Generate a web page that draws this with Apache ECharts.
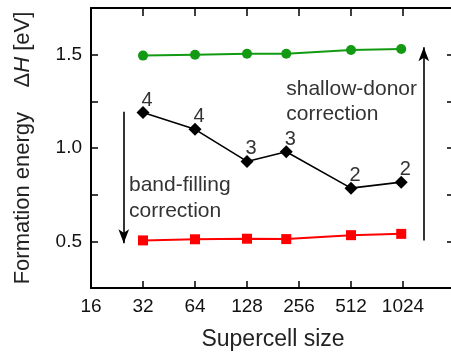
<!DOCTYPE html>
<html>
<head>
<meta charset="utf-8">
<script src="https://cdn.jsdelivr.net/npm/echarts@6/dist/echarts.min.js"></script>
<style>
html,body{margin:0;padding:0;background:#fff;overflow:hidden;}
#chart{width:451px;height:358px;}
</style>
</head>
<body>
<div id="chart"></div>
<script>
// Supercell sizes (atoms) and formation energies (eV)
var sizes = [32, 64, 128, 216, 512, 1000];
var corrDonor = [1.495, 1.500, 1.505, 1.505, 1.525, 1.530];   // green circles
var uncorrected = [1.190, 1.100, 0.928, 0.980, 0.785, 0.817]; // black diamonds
var corrBand = [0.505, 0.511, 0.514, 0.512, 0.533, 0.540];     // red squares
var electronCounts = ['4', '4', '3', '3', '2', '2'];
var xTickExponents = [4, 5, 6, 7, 8, 9, 10];

var FONT = 'Liberation Sans, Arial, Helvetica, sans-serif';

function pts(vals) {
  return sizes.map(function (s, i) { return [Math.log2(s), vals[i]]; });
}

var chart = echarts.init(document.getElementById('chart'), null, {renderer: 'canvas'});

var axisLineStyle = {color: '#000', width: 2};

var option = {
  animation: false,
  backgroundColor: '#fff',
  grid: {left: 91, top: 8, width: 364, height: 280, containLabel: false, outerBoundsMode: 'none'},
  xAxis: [{
    type: 'value', min: 4, max: 11, interval: 1,
    position: 'bottom',
    axisLine: {show: true, onZero: false, lineStyle: axisLineStyle},
    axisTick: {show: true, inside: true, length: 7, lineStyle: {color: '#000', width: 1.5}},
    axisLabel: {
      fontFamily: FONT, fontSize: 19, color: '#111', margin: 9,
      formatter: function (v) { return xTickExponents.indexOf(v) >= 0 ? String(Math.pow(2, v)) : ''; }
    },
    splitLine: {show: false},
    name: 'Supercell size', nameLocation: 'middle', nameGap: 40,
    nameTextStyle: {fontFamily: FONT, fontSize: 23, color: '#222'}
  }, {
    type: 'value', min: 4, max: 11, interval: 1,
    position: 'top',
    axisLine: {show: true, onZero: false, lineStyle: axisLineStyle},
    axisTick: {show: true, inside: true, length: 8, lineStyle: {color: '#000', width: 1.5}},
    axisLabel: {show: false},
    splitLine: {show: false}
  }],
  yAxis: [{
    type: 'value', min: 0.25, max: 1.75, interval: 0.25,
    position: 'left',
    axisLine: {show: true, onZero: false, lineStyle: axisLineStyle},
    axisTick: {show: true, inside: true, length: 7, lineStyle: {color: '#000', width: 1.5}},
    axisLabel: {
      fontFamily: FONT, fontSize: 19, color: '#111', margin: 9,
      formatter: function (v) {
        var r = Math.round(v * 100);
        return (r % 50 === 0 && r >= 50 && r <= 150) ? v.toFixed(1) : '';
      }
    },
    splitLine: {show: false},
    name: '{a|Formation energy    Δ}{i|H}{a| [eV]}',
    nameLocation: 'middle', nameGap: 57, nameRotate: 90,
    nameTextStyle: {
      rich: {
        a: {fontFamily: FONT, fontSize: 22, color: '#222'},
        i: {fontFamily: FONT, fontSize: 22, color: '#222', fontStyle: 'italic'}
      }
    }
  }, {
    type: 'value', min: 0.25, max: 1.75, interval: 0.25,
    position: 'right',
    axisLine: {show: false},
    axisTick: {show: true, inside: true, length: 8, lineStyle: {color: '#000', width: 1.5}},
    axisLabel: {show: false},
    splitLine: {show: false}
  }],
  series: [{
    name: 'donor-corrected', type: 'line', data: pts(corrDonor),
    symbol: 'circle', symbolSize: 10,
    lineStyle: {color: '#139a13', width: 2},
    itemStyle: {color: '#139a13'},
    silent: true, z: 3
  }, {
    name: 'band-corrected', type: 'line', data: pts(corrBand),
    symbol: 'rect', symbolSize: 10,
    lineStyle: {color: '#ff0000', width: 2},
    itemStyle: {color: '#ff0000'},
    silent: true, z: 3
  }, {
    name: 'uncorrected', type: 'line', data: pts(uncorrected),
    symbol: 'diamond', symbolSize: 13,
    lineStyle: {color: '#000', width: 1.6},
    itemStyle: {color: '#000'},
    label: {
      show: true, position: 'top', distance: 1, offset: [4, 5],
      fontFamily: FONT, fontSize: 20, color: '#333',
      formatter: function (p) { return electronCounts[p.dataIndex]; }
    },
    silent: true, z: 3,
    markLine: {
      silent: true,
      symbol: ['none', 'arrow'],
      symbolSize: [8, 14],
      label: {show: false},
      lineStyle: {color: '#000', width: 1.6, type: 'solid'},
      emphasis: {disabled: true},
      data: [
        [{coord: [4.63, 1.194]}, {coord: [4.63, 0.49]}],
        [{coord: [10.40, 0.505]}, {coord: [10.40, 1.54]}]
      ]
    }
  }],
  graphic: [{
    type: 'text', left: 129, top: 172,
    style: {
      text: 'band-filling\ncorrection', fontFamily: FONT, fontSize: 21,
      lineHeight: 26, fill: '#333', align: 'left'
    }
  }, {
    type: 'text', right: 34, top: 77,
    style: {
      text: 'shallow-donor\ncorrection', fontFamily: FONT, fontSize: 21,
      lineHeight: 25, fill: '#333', align: 'right'
    }
  }]
};

chart.setOption(option);
</script>
</body>
</html>
